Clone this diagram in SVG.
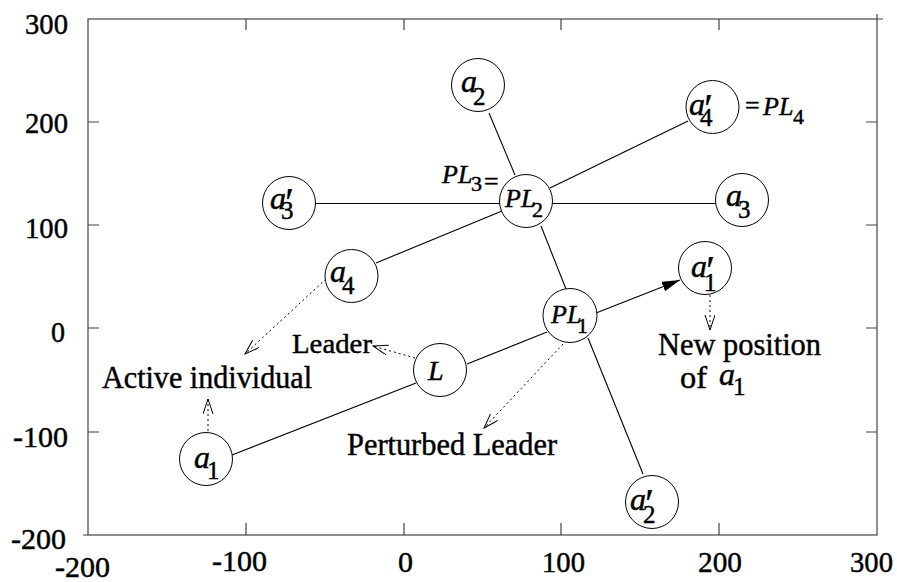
<svg xmlns="http://www.w3.org/2000/svg" width="897" height="582" viewBox="0 0 897 582">
<style>
  .frame{fill:none;stroke:#444;stroke-width:1.2}
  .tick{stroke:#444;stroke-width:1.2}
  text{font-family:"Liberation Serif","Times New Roman",serif;fill:#000;stroke:#000;stroke-width:0.45}
  .tl{font-size:30px}
  .lbl{font-size:32px}
  .nd{fill:#fff;stroke:#000;stroke-width:1}
  .it{font-style:italic;font-size:32px}
  .itp{font-style:italic;font-size:26px}
  .sub{font-style:normal;font-size:25px}
  .sm{font-style:normal;font-size:22px}
  .pr{font-style:normal;font-size:42px;stroke-width:0.2}
  .eq{font-style:normal;font-size:26px}
  .edge{stroke:#000;stroke-width:1.1;fill:none}
  .dot{stroke:#000;stroke-width:1;stroke-dasharray:2,3;fill:none}
</style>
<defs>
  <marker id="open" markerUnits="userSpaceOnUse" markerWidth="16" markerHeight="12" refX="15" refY="5" orient="auto">
    <path d="M0,0 L15,5 L0,10" fill="none" stroke="#000" stroke-width="1"/>
  </marker>
  <marker id="solid" markerUnits="userSpaceOnUse" markerWidth="20" markerHeight="12" refX="18" refY="5" orient="auto">
    <path d="M0,0 L18,5 L0,10 Z" fill="#000"/>
  </marker>
</defs>
<rect width="897" height="582" fill="#fff"/>
<g id="axes">
  <rect class="frame" x="88" y="19" width="789" height="516"/>
  <path class="tick" d="M83,535H88 M877,14V19 M877,19H883 M246,19V30 M404,19V30 M561,19V30 M719,19V30 M246,535V523 M404,535V523 M561,535V523 M719,535V523 M88,122H99 M88,225H99 M88,328H99 M88,432H99 M877,122H866 M877,225H866 M877,328H866 M877,432H866"/>
  <text class="tl" x="25" y="34" textLength="43" lengthAdjust="spacingAndGlyphs">300</text>
  <text class="tl" x="25" y="133" textLength="43" lengthAdjust="spacingAndGlyphs">200</text>
  <text class="tl" x="25" y="238" textLength="43" lengthAdjust="spacingAndGlyphs">100</text>
  <text class="tl" x="51" y="342" textLength="14" lengthAdjust="spacingAndGlyphs">0</text>
  <text class="tl" x="13" y="447" textLength="55" lengthAdjust="spacingAndGlyphs">-100</text>
  <text class="tl" x="11" y="549" textLength="55" lengthAdjust="spacingAndGlyphs">-200</text>
  <text class="tl" x="55" y="577" textLength="55" lengthAdjust="spacingAndGlyphs">-200</text>
  <text class="tl" x="212" y="571" textLength="55" lengthAdjust="spacingAndGlyphs">-100</text>
  <text class="tl" x="398" y="572" textLength="15" lengthAdjust="spacingAndGlyphs">0</text>
  <text class="tl" x="542" y="572" textLength="43" lengthAdjust="spacingAndGlyphs">100</text>
  <text class="tl" x="698" y="572" textLength="44" lengthAdjust="spacingAndGlyphs">200</text>
  <text class="tl" x="850" y="572" textLength="43" lengthAdjust="spacingAndGlyphs">300</text>
</g>
<g id="connectors">
  <line class="edge" x1="232" y1="455" x2="416" y2="383"/>
  <line class="edge" x1="467" y1="364" x2="547" y2="332"/>
  <line class="edge" x1="596" y1="313" x2="680" y2="280" marker-end="url(#solid)"/>
  <line class="edge" x1="489" y1="113" x2="515" y2="175"/>
  <line class="edge" x1="541" y1="226" x2="566" y2="289"/>
  <line class="edge" x1="588" y1="338" x2="643" y2="474"/>
  <line class="edge" x1="316" y1="203.5" x2="500" y2="203.5"/>
  <line class="edge" x1="552" y1="203.5" x2="716" y2="203.5"/>
  <line class="edge" x1="376" y1="263" x2="502" y2="211"/>
  <line class="edge" x1="550" y1="188" x2="688" y2="121"/>
  <line class="dot" x1="326" y1="279" x2="245" y2="354" marker-end="url(#open)"/>
  <line class="dot" x1="415" y1="358" x2="373" y2="346" marker-end="url(#open)"/>
  <line class="dot" x1="563" y1="344" x2="484" y2="428" marker-end="url(#open)"/>
  <line class="dot" x1="208" y1="431" x2="208" y2="399" marker-end="url(#open)"/>
  <line class="dot" x1="710" y1="295" x2="710" y2="330" marker-end="url(#open)"/>
</g>
<g id="node-a2">
  <circle class="nd" cx="478" cy="85" r="26.5"/>
  <text class="it" x="461" y="92">a<tspan class="sub" x="473" y="105">2</tspan></text>
</g>
<g id="node-a4p">
  <circle class="nd" cx="712.5" cy="107" r="26.5"/>
  <text class="it" x="689" y="115">a<tspan class="pr" x="704" y="123">′</tspan><tspan class="sub" x="700" y="126">4</tspan></text>
</g>
<g id="node-PL2">
  <circle class="nd" cx="526" cy="201" r="26.5"/>
  <text class="itp" x="505" y="207">PL<tspan class="sm" x="532" y="217">2</tspan></text>
</g>
<g id="node-a3p">
  <circle class="nd" cx="289" cy="203" r="26.5"/>
  <text class="it" x="270" y="209">a<tspan class="pr" x="285" y="217">′</tspan><tspan class="sub" x="281" y="219">3</tspan></text>
</g>
<g id="node-a3">
  <circle class="nd" cx="742" cy="200" r="26.5"/>
  <text class="it" x="726" y="206">a<tspan class="sub" x="738" y="218">3</tspan></text>
</g>
<g id="node-a4">
  <circle class="nd" cx="351.5" cy="276" r="26.5"/>
  <text class="it" x="330" y="282">a<tspan class="sub" x="342" y="294">4</tspan></text>
</g>
<g id="node-a1p">
  <circle class="nd" cx="705" cy="268" r="26.5"/>
  <text class="it" x="691" y="277">a<tspan class="pr" x="706" y="285">′</tspan><tspan class="sub" x="704" y="291">1</tspan></text>
</g>
<g id="node-PL1">
  <circle class="nd" cx="570" cy="315.5" r="27"/>
  <text class="itp" x="551" y="323">PL<tspan class="sm" x="577" y="333">1</tspan></text>
</g>
<g id="node-L">
  <circle class="nd" cx="440" cy="370" r="26.5"/>
  <text class="it" x="428" y="380" style="font-size:28px">L</text>
</g>
<g id="node-a1">
  <circle class="nd" cx="206" cy="459" r="26.5"/>
  <text class="it" x="194" y="468">a<tspan class="sub" x="207" y="479">1</tspan></text>
</g>
<g id="node-a2p">
  <circle class="nd" cx="652" cy="502" r="26.5"/>
  <text class="it" x="630" y="510">a<tspan class="pr" x="645" y="518">′</tspan><tspan class="sub" x="643" y="523">2</tspan></text>
</g>
<g id="labels">
  <text class="itp" x="442" y="183">PL<tspan class="sm" x="471" y="191">3</tspan><tspan class="eq" x="484" y="190">=</tspan></text>
  <text class="eq" x="745" y="114">=<tspan class="itp" x="763" y="115">PL</tspan><tspan class="sm" x="793" y="124">4</tspan></text>
  <text class="lbl" x="102" y="388" textLength="210" lengthAdjust="spacingAndGlyphs">Active individual</text>
  <text class="lbl" x="292" y="353" style="font-size:28px" textLength="80" lengthAdjust="spacingAndGlyphs">Leader</text>
  <text class="lbl" x="347" y="455" textLength="210" lengthAdjust="spacingAndGlyphs">Perturbed Leader</text>
  <text class="lbl" x="658" y="355" textLength="163" lengthAdjust="spacingAndGlyphs">New position</text>
  <text class="lbl" x="680" y="388" textLength="27" lengthAdjust="spacingAndGlyphs">of</text>
  <text class="it" x="719" y="385">a<tspan class="sub" x="733" y="395">1</tspan></text>
</g>
</svg>
